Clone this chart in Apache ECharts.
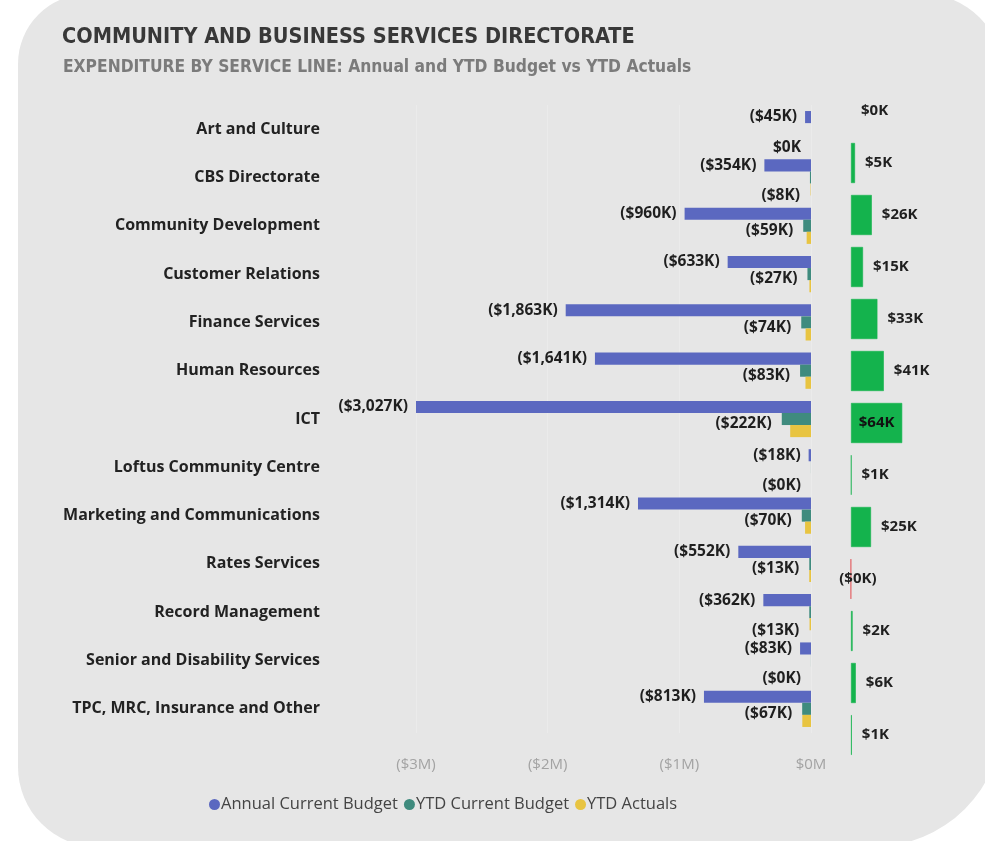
<!DOCTYPE html>
<html>
<head>
<meta charset="utf-8">
<script src="https://cdn.jsdelivr.net/npm/echarts@6/dist/echarts.min.js"></script>
<style>
  html, body { margin: 0; padding: 0; background: #ffffff; width: 985px; height: 841px; overflow: hidden; }
  #card { position: absolute; left: 18px; top: -6px; width: 985px; height: 853px; background: #e6e6e6;
          border-radius: 70px 80px 130px 80px; }
  #chart { position: absolute; left: 0; top: 0; width: 985px; height: 841px; }
</style>
</head>
<body>
<div id="card"></div>
<div id="chart"></div>
<script>
// Service lines, top to bottom
const serviceLines = [
  'Art and Culture', 'CBS Directorate', 'Community Development', 'Customer Relations',
  'Finance Services', 'Human Resources', 'ICT', 'Loftus Community Centre',
  'Marketing and Communications', 'Rates Services', 'Record Management',
  'Senior and Disability Services', 'TPC, MRC, Insurance and Other'
];

// Expenditure in $K (negative = spend)
const annualBudgetK = [-45, -354, -960, -633, -1863, -1641, -3027, -18, -1314, -552, -362, -83, -813];
const ytdBudgetK    = [0, -8, -59, -27, -74, -83, -222, -0.4, -70, -13, -13, -0.4, -67];
const ytdActualsK   = [0, -3, -33, -12, -41, -42, -158, 0.2, -45, -13.3, -11, 5.6, -66];
// YTD variance (actuals less budget), $K
const varianceK     = [0, 5, 26, 15, 33, 41, 64, 0.6, 25, -0.3, 2, 6, 1];

// Value axis ticks ($K) and their labels
const axisTicksK  = [-3000, -2000, -1000, 0];
const axisTickLbl = ['($3M)', '($2M)', '($1M)', '$0M'];

const seriesNames = ['Annual Current Budget', 'YTD Current Budget', 'YTD Actuals'];

function fmtK(v) {
  const s = '$' + Math.round(Math.abs(v)).toString().replace(/\B(?=(\d{3})+(?!\d))/g, ',') + 'K';
  return v < 0 ? '(' + s + ')' : s;
}

const FONT = "'Open Sans', 'Noto Sans', sans-serif";
const NARROW = "'DejaVu Sans Condensed', 'DejaVu Sans', sans-serif";

const chart = echarts.init(document.getElementById('chart'), null, { renderer: 'canvas' });

// Rectangles of the annual-budget labels, reused to push clashing YTD labels down
const annualLabelRects = [];
const LABEL_PAD = 8;

const valueLabel = {
  show: true,
  position: 'left',
  distance: 9,
  fontFamily: FONT,
  fontWeight: 'bold',
  fontSize: 15.5,
  color: '#1f1f1f',
  formatter: p => fmtK(p.value)
};

const varianceData = varianceK.map(v => {
  const item = { value: v };
  if (v < 0) {
    item.itemStyle = { color: '#e2646a', borderColor: '#e2646a', borderWidth: 0.8 };
    item.label = { position: 'right', offset: [-22, 0] };
  } else if (v === 0) {
    item.itemStyle = { borderWidth: 0 };
  }
  if (v >= 60) {
    item.label = { position: 'inside', color: '#111' };
  }
  return item;
});

const option = {
  animation: false,
  title: [
    {
      text: 'COMMUNITY AND BUSINESS SERVICES DIRECTORATE',
      left: 57, top: 21,
      textStyle: { fontFamily: NARROW, fontWeight: 'bold', fontSize: 21.5, color: '#383838' }
    },
    {
      text: 'EXPENDITURE BY SERVICE LINE: Annual and YTD Budget vs YTD Actuals',
      left: 58, top: 54,
      textStyle: { fontFamily: NARROW, fontWeight: 'bold', fontSize: 17.3, color: '#7b7b7b' }
    }
  ],
  legend: {
    data: seriesNames,
    left: 204, top: 791,
    icon: 'circle',
    itemWidth: 11, itemHeight: 11, itemGap: 6,
    textStyle: { fontFamily: FONT, fontSize: 16.5, color: '#444', padding: [0, 0, 0, -4] }
  },
  grid: [
    { left: 416, right: 174, top: 105, bottom: 108 },
    { left: 843, width: 88, top: 85, height: 676 }
  ],
  xAxis: [
    {
      type: 'value', gridIndex: 0,
      min: axisTicksK[0], max: axisTicksK[axisTicksK.length - 1], interval: 1000,
      axisLine: { show: false }, axisTick: { show: false },
      splitLine: { show: true, lineStyle: { color: '#ebebeb', width: 1 } },
      axisLabel: {
        margin: 24, fontFamily: FONT, fontSize: 15, color: '#a3a3a3',
        formatter: v => axisTickLbl[axisTicksK.indexOf(v)] || ''
      }
    },
    {
      type: 'value', gridIndex: 1, min: -10, max: 100, show: false
    }
  ],
  yAxis: [
    {
      type: 'category', gridIndex: 0, data: serviceLines, inverse: true,
      axisLine: { show: false }, axisTick: { show: false },
      axisLabel: { margin: 96, fontFamily: FONT, fontWeight: 'bold', fontSize: 16, color: '#222' }
    },
    {
      type: 'category', gridIndex: 1, data: serviceLines, inverse: true, show: false
    }
  ],
  series: [
    {
      name: seriesNames[0], type: 'bar', xAxisIndex: 0, yAxisIndex: 0,
      data: annualBudgetK, barGap: '0%', barCategoryGap: '25%',
      itemStyle: { color: '#5b68c0' },
      label: Object.assign({}, valueLabel, { distance: 8 }),
      labelLayout: p => { annualLabelRects[p.dataIndex] = p.labelRect; return {}; }
    },
    {
      name: seriesNames[1], type: 'bar', xAxisIndex: 0, yAxisIndex: 0,
      data: ytdBudgetK, barGap: '0%', barCategoryGap: '25%',
      itemStyle: { color: '#3f8b7e' },
      label: Object.assign({}, valueLabel, { distance: 10 }),
      labelLayout: p => {
        const a = annualLabelRects[p.dataIndex];
        const g = p.labelRect;
        const clash = a && g.x < a.x + a.width + LABEL_PAD && g.x + g.width > a.x - LABEL_PAD;
        return { dy: clash ? 18 : 5 };
      }
    },
    {
      name: seriesNames[2], type: 'bar', xAxisIndex: 0, yAxisIndex: 0,
      data: ytdActualsK, barGap: '0%', barCategoryGap: '25%',
      itemStyle: { color: '#e8c441' }
    },
    {
      name: 'YTD Variance', type: 'bar', xAxisIndex: 1, yAxisIndex: 1,
      data: varianceData, barCategoryGap: '23%',
      itemStyle: { color: '#14b34d', borderColor: '#14b34d', borderWidth: 0.6 },
      label: {
        show: true, position: 'right', distance: 10,
        fontFamily: FONT, fontWeight: 'bold', fontSize: 15, color: '#1f1f1f',
        formatter: p => fmtK(p.value)
      }
    }
  ]
};

chart.setOption(option);
</script>
</body>
</html>
